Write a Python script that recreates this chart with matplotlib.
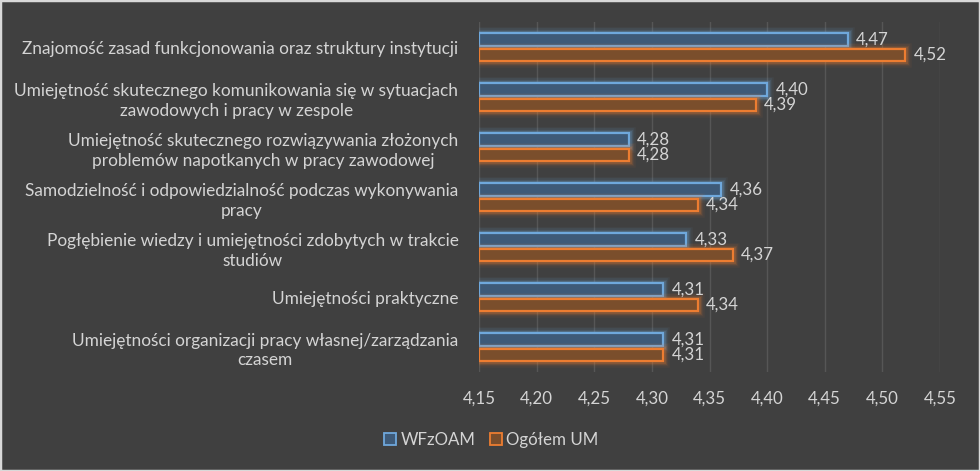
import numpy as np
import matplotlib.pyplot as plt
import matplotlib.patheffects as pe
from matplotlib.patches import Rectangle
from matplotlib.lines import Line2D

# Dane
kategorie = [
    "Znajomość zasad funkcjonowania oraz struktury instytucji",
    "Umiejętność skutecznego komunikowania się w sytuacjach\nzawodowych i pracy w zespole",
    "Umiejętność skutecznego rozwiązywania złożonych\nproblemów napotkanych w pracy zawodowej",
    "Samodzielność i odpowiedzialność podczas wykonywania\npracy",
    "Pogłębienie wiedzy i umiejętności zdobytych w trakcie\nstudiów",
    "Umiejętności praktyczne",
    "Umiejętności organizacji pracy własnej/zarządzania\nczasem",
]
wfzoam = [4.47, 4.40, 4.28, 4.36, 4.33, 4.31, 4.31]
ogolem = [4.52, 4.39, 4.28, 4.34, 4.37, 4.34, 4.31]
serie = ["WFzOAM", "Ogółem UM"]
xticks = [4.15, 4.20, 4.25, 4.30, 4.35, 4.40, 4.45, 4.50, 4.55]

BG = '#404040'
TXT = '#d4d4d4'
BLUE = '#6fa8dc'
BLUE_FILL = '#3e5a78'
ORANGE = '#ed7d31'
ORANGE_FILL = '#7a4e2c'

plt.rcParams['font.family'] = ['Lato', 'DejaVu Sans']

fig = plt.figure(figsize=(9.8, 4.71), dpi=100, facecolor=BG)
ax = fig.add_axes([0.489, 0.21, 0.470, 0.743])
ax.set_facecolor(BG)

xmin, xmax = 4.15, 4.55
y = np.arange(len(kategorie))
h = 0.25
off = 0.155


def glow(color):
    return [pe.Stroke(linewidth=w, foreground=color, alpha=a)
            for w, a in [(9, 0.06), (7, 0.08), (5, 0.12), (3.5, 0.2)]] + [pe.Normal()]


for vals, fill, edge, sgn in [(wfzoam, BLUE_FILL, BLUE, -1), (ogolem, ORANGE_FILL, ORANGE, 1)]:
    widths = np.array(vals) - xmin
    bars = ax.barh(y + sgn * off, widths, left=xmin, height=h, color=fill,
                   edgecolor=edge, linewidth=1.6, zorder=3)
    for b in bars:
        b.set_path_effects(glow(edge))
    for yi, v in zip(y + sgn * off, vals):
        ax.annotate(f"{v:.2f}".replace('.', ','), (v, yi), xytext=(6, 0), textcoords='offset points',
                    va='center', ha='left', color=TXT, fontsize=12.2, zorder=4)

ax.set_xlim(xmin, xmax)
ax.set_ylim(len(kategorie) - 0.5, -0.5)
ax.set_xticks(xticks)
ax.set_xticklabels([f"{t:.2f}".replace('.', ',') for t in xticks], color=TXT, fontsize=12.2)
ax.set_yticks(y)
ax.set_yticklabels(kategorie, color=TXT, fontsize=12.4, multialignment='center', linespacing=1.3)
ax.tick_params(axis='both', length=0)
ax.tick_params(axis='x', pad=13)
ax.tick_params(axis='y', pad=15)
ax.grid(axis='x', color='#565656', linewidth=1, zorder=0)
for s in ax.spines.values():
    s.set_visible(False)

handles = [Line2D([], [], marker='s', linestyle='none', markersize=8, markerfacecolor=BLUE_FILL,
                  markeredgecolor=BLUE, markeredgewidth=1.3),
           Line2D([], [], marker='s', linestyle='none', markersize=8, markerfacecolor=ORANGE_FILL,
                  markeredgecolor=ORANGE, markeredgewidth=1.3)]
leg = fig.legend(handles, serie, loc='center', bbox_to_anchor=(0.5, 0.065), ncol=2, frameon=False,
                 fontsize=12.2, handletextpad=0.1, columnspacing=0.7, handlelength=1.0)
for t in leg.get_texts():
    t.set_color(TXT)

fig.patches.append(Rectangle((0, 0), 1, 1, transform=fig.transFigure, fill=False,
                             edgecolor='#d9d9d9', linewidth=2.5))

fig.savefig('out.png', dpi=100, facecolor=BG)
